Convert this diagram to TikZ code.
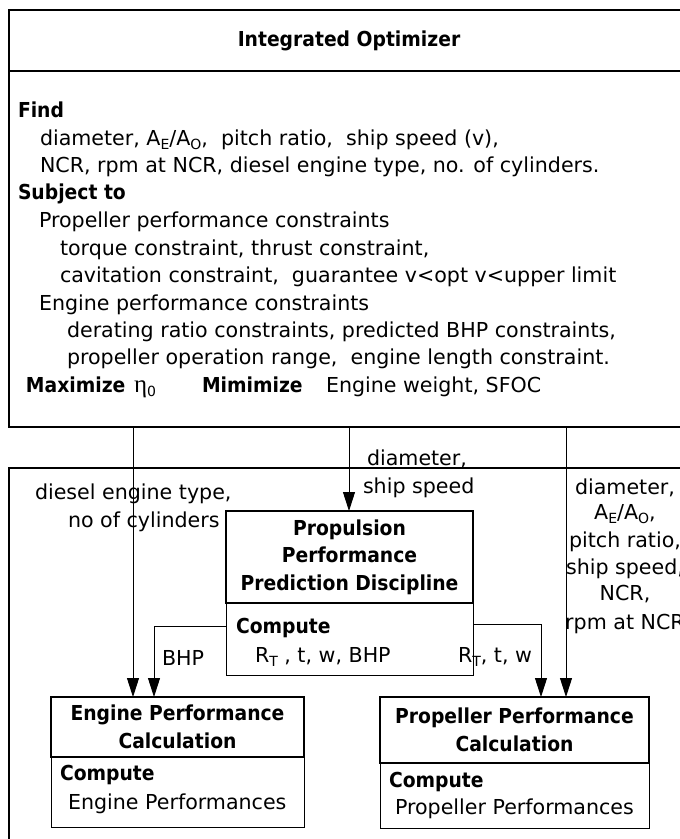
\documentclass[tikz,border=0pt]{standalone}
\usepackage{fontspec}
\setmainfont{DejaVu Sans}[BoldFeatures={FakeStretch=0.91}]
\newfontfamily\greekfont{Liberation Serif}
\usetikzlibrary{arrows.meta,calc}

\newcommand{\bodyfont}{\fontsize{20.6}{27.5}\selectfont}
% lowered subscript, a little larger than \textsubscript
\newcommand{\lsub}[1]{\raisebox{-4.5pt}{\fontsize{14}{14}\selectfont #1}}

\begin{document}
\begin{tikzpicture}[x=1pt,y=-1pt,
  every node/.style={font=\bodyfont, inner sep=0pt, outer sep=0pt},
  txt/.style={anchor=base west},
  hd/.style={anchor=base west, font=\bodyfont\bfseries},
  frame/.style={draw, line width=1.5pt, anchor=north west},
  titlebox/.style={draw, line width=2pt, align=center, anchor=north west,
                   font=\bodyfont\bfseries},
  compbox/.style={draw, line width=0.9pt, anchor=north west},
  link/.style={line width=0.9pt},
  arr/.style={link, -{Triangle[length=19pt,width=12pt]}},
]
\useasboundingbox (0,0) rectangle (680,839);
\clip (0,0) rectangle (680,839);

% ---- optimizer frame ----
\node[frame, minimum width=700, minimum height=417] (opt) at (9,10) {};
\coordinate (dv) at ($(opt.north west)+(0,61)$);
\draw[line width=1.5pt] (dv) -- (dv -| opt.east);
\node[font=\bodyfont\bfseries] (opttitle) at (349,41) {Integrated Optimizer};

\node[hd]  (l1)  at (18,117) {Find};
\node[txt] (l2)  at (40,145) {diameter, A\lsub{E}/A\lsub{O},\ \ pitch ratio,\ \ ship speed (v),};
\node[txt] (l3)  at (40,172) {NCR, rpm at NCR, diesel engine type, no. of cylinders.};
\node[hd]  (l4)  at (18,199) {Subject to};
\node[txt] (l5)  at (39,227) {Propeller performance constraints};
\node[txt] (l6)  at (60,255) {torque constraint, thrust constraint,};
\node[txt] (l7)  at (60,282) {cavitation constraint,\ \ guarantee v<opt v<upper limit};
\node[txt] (l8)  at (39,310) {Engine performance constraints};
\node[txt] (l9)  at (67,337) {derating ratio constraints, predicted BHP constraints,};
\node[txt] (l10) at (67,364) {propeller operation range,\ \ engine length constraint.};
\node[hd]  (l11) at (26,392) {Maximize};
\node[txt] (l11b) at (134,392) {{\greekfont\fontsize{25}{25}\selectfont η}\lsub{0}};
\node[hd]  (l11c) at (202,392) {Mimimize};
\node[txt] (l11d) at (326,392) {Engine weight, SFOC};

% ---- discipline frame ----
\node[frame, line width=1.2pt, minimum width=700, minimum height=400] (disc) at (9,468) {};

\node[titlebox, minimum width=247, minimum height=92] (ppp) at (226,511)
  {Propulsion\\Performance\\Prediction Discipline};
\node[compbox, minimum width=247, minimum height=72] (pppc) at (ppp.south west) {};
\node[hd]  (pppk) at (236,633) {Compute};
\node[txt] (pppv) at (255,662) {R\lsub{T} , t, w, BHP};

\node[titlebox, minimum width=253, minimum height=60] (epc) at (51,697)
  {Engine Performance\\Calculation};
\node[compbox, minimum width=253, minimum height=70] (epcc) at (epc.south west) {};
\node[hd]  (epck) at (60,780) {Compute};
\node[txt] (epcv) at (68,809) {Engine Performances};

\node[titlebox, minimum width=269, minimum height=66] (ppc) at (380,697)
  {Propeller Performance\\Calculation};
\node[compbox, minimum width=269, minimum height=65] (ppcc) at (ppc.south west) {};
\node[hd]  (ppck) at (389,787) {Compute};
\node[txt] (ppcv) at (395,814) {Propeller Performances};

% ---- labels ----
\node[txt] (lb1) at (35,499) {diesel engine type,};
\node[txt] (lb2) at (68,527) {no of cylinders};
\node[txt] (lb3) at (367,465) {diameter,};
\node[txt] (lb4) at (363,493) {ship speed};
\node[anchor=base] (rc1) at (625,494) {diameter,};
\node[anchor=base] (rc2) at (625,519) {A\lsub{E}/A\lsub{O},};
\node[anchor=base] (rc3) at (625,547) {pitch ratio,};
\node[anchor=base] (rc4) at (625,574) {ship speed,};
\node[anchor=base] (rc5) at (625,600) {NCR,};
\node[anchor=base] (rc6) at (625,629) {rpm at NCR};
\node[txt] (lbhp) at (162,665) {BHP};
\node[txt] (lrtw) at (458,662) {R\lsub{T}, t, w};

% ---- connectors ----
\coordinate (eIn)  at ($(epc.north west)+(82,0)$);
\coordinate (eBHP) at ($(epc.north west)+(103,0)$);
\coordinate (dIn)  at ($(ppp.north west)+(123,0)$);
\coordinate (pRtw) at ($(ppc.north west)+(161,0)$);
\coordinate (pIn)  at ($(ppc.north west)+(186,0)$);
\coordinate (bhpOut) at ($(pppc.north west)+(0,23)$);
\coordinate (rtwOut) at ($(pppc.north east)+(0,21)$);

\draw[arr] (eIn |- opt.south) -- (eIn);
\draw[arr] (dIn |- opt.south) -- (dIn);
\draw[arr] (pIn |- opt.south) -- (pIn);
\draw[arr] (bhpOut) -| (eBHP);
\draw[arr] (rtwOut) -| (pRtw);
\end{tikzpicture}
\end{document}
